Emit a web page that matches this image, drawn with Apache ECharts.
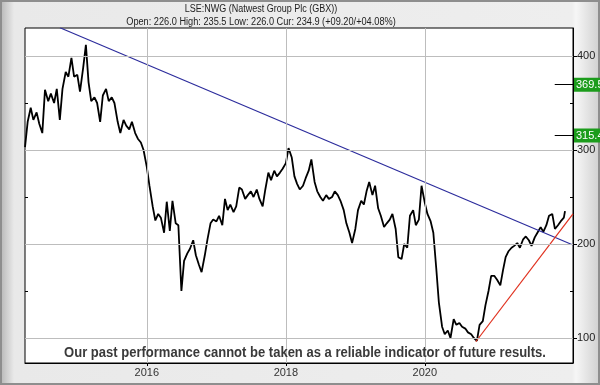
<!DOCTYPE html>
<html><head><meta charset="utf-8">
<script src="https://cdn.jsdelivr.net/npm/echarts@6/dist/echarts.min.js"></script>
<style>
html,body{margin:0;padding:0;}
body{width:600px;height:385px;background:#8e8e8e;position:relative;overflow:hidden}
#bg{position:absolute;left:2px;top:2px;width:596px;height:381px;
 background:linear-gradient(to right,#bdbdbd 0px,#e9e9e9 12px,#eeeeee 570px,#f6f6f6 574px,#d2d2d2 596px);}
#c{position:absolute;left:0;top:0;width:600px;height:385px}
</style>
</head><body><div id="bg"></div><div id="c"></div>
<script>
// ---- data (semi-monthly readings: 1st and 15th of each month) ----
const p2014 = [303,330,345,332,340,328,318,364,352,360,350,365,332,365,383,378,398,378]; // from Apr
const p2015 = [380,362,388,412,372,352,356,350,330,358,365,352,356,350,330,318,332,326,322,330,318,312,308,300];
const p2016 = [282,262,240,225,232,228,212,245,214,246,222,220,150,182,190,195,204,188,178,170,188,205,222,226];
const p2017 = [224,230,220,248,236,242,234,240,260,258,248,252,256,250,258,248,240,258,276,268,278,272,276,280];
const p2018 = [286,302,292,272,264,258,262,270,278,290,266,256,250,246,252,248,250,256,252,246,236,222,212,201];
const p2019 = [216,236,246,242,256,266,252,262,238,230,218,222,226,232,216,186,184,200,196,230,236,220,226,262];
const p2020 = [244,232,224,212,175,138,112,104,108,100,120,114,116,112,110,106,104,100,97,114,118,135,150,166];
const p2021 = [166,162,156,172,186,192,196,198,201,196,205,208,204,198,207,212,218,213,220,230,232,216,220,224];
const p2022 = [228];
const lastDate = '2022-01-07';
const lastClose = 234.9;

const yearTicks = ['2016-01-01','2018-01-01','2020-01-01'];
const priceTicks = [100,200,300,400];
const minorPriceTicks = [150,250,350];
const targetLevels = [369.5,315.4];

const blueTrend = [['2014-10-02',430],['2022-02-18',199]];
const redTrend = [['2020-09-25',96],['2022-02-18',232]];

const titleLine1 = 'LSE:NWG (Natwest Group Plc (GBX))';
const titleLine2 = 'Open: 226.0 High: 235.5 Low: 226.0 Cur: 234.9 (+09.20/+04.08%)';
const disclaimer = 'Our past performance cannot be taken as a reliable indicator of future results.';

// ---- build ----
const ts = s => echarts.time.parse(s).getTime();
function semiMonthly(year, firstMonth, vals){
  return vals.map((v,i)=>{
    const m = firstMonth + Math.floor(i/2);
    const d = i%2 ? 15 : 1;
    return [ts(year+'-'+String(m).padStart(2,'0')+'-'+String(d).padStart(2,'0')), v];
  });
}
const price = [].concat(
  semiMonthly(2014,4,p2014), semiMonthly(2015,1,p2015), semiMonthly(2016,1,p2016),
  semiMonthly(2017,1,p2017), semiMonthly(2018,1,p2018), semiMonthly(2019,1,p2019),
  semiMonthly(2020,1,p2020), semiMonthly(2021,1,p2021), semiMonthly(2022,1,p2022),
  [[ts(lastDate),lastClose]]
);
const toTs = arr => arr.map(p=>[ts(p[0]),p[1]]);
const FONT = '"Liberation Sans", Arial, sans-serif';
const xMin = ts('2014-04-01'), xMax = ts('2022-02-18');
const yearTs = yearTicks.map(ts);

const chart = echarts.init(document.getElementById('c'));
chart.setOption({
  animation:false,
  backgroundColor:'transparent',
  grid:{left:25,right:27,top:28,bottom:22,show:true,backgroundColor:'#fff',borderColor:'#000',borderWidth:1},
  xAxis:{type:'value',min:xMin,max:xMax,
    axisLine:{show:true,lineStyle:{color:'#000',width:1}},
    axisTick:{show:true,length:3,customValues:yearTs,lineStyle:{color:'#000'}},
    axisLabel:{customValues:yearTs,margin:4,color:'#333',fontSize:11,fontFamily:FONT,
      formatter:v=>String(new Date(v).getFullYear())},
    splitLine:{show:false}},
  yAxis:[{type:'value',position:'right',min:73.4,max:429.8,
    axisLine:{show:true,lineStyle:{color:'#000',width:1}},
    axisTick:{show:true,length:4,customValues:priceTicks,lineStyle:{color:'#000'}},
    axisLabel:{customValues:priceTicks,margin:4,color:'#222',fontSize:11,fontFamily:FONT},
    splitLine:{show:false}},
   {type:'value',position:'right',min:73.4,max:429.8,
    axisLine:{show:false},
    axisTick:{show:true,inside:true,length:3,customValues:minorPriceTicks,lineStyle:{color:'#000'}},
    axisLabel:{show:false},splitLine:{show:false}},
   {type:'value',position:'left',min:73.4,max:429.8,
    axisLine:{show:false},
    axisTick:{show:true,inside:true,length:3,customValues:minorPriceTicks,lineStyle:{color:'#000'}},
    axisLabel:{show:false},splitLine:{show:false}}],
  graphic:[
    {type:'text',x:261,y:9,z:100,scaleX:0.9,style:{text:titleLine1,align:'center',verticalAlign:'middle',fill:'#222',font:'10px '+FONT}},
    {type:'text',x:261,y:22,z:100,scaleX:0.92,style:{text:titleLine2,align:'center',verticalAlign:'middle',fill:'#222',font:'10px '+FONT}},
    {type:'text',x:305,y:353,z:100,scaleX:0.93,style:{text:disclaimer,align:'center',verticalAlign:'middle',fill:'#3a3a3a',font:'bold 14px '+FONT}}
  ],
  series:[
    {type:'line',data:[],z:1,silent:true,
     markLine:{silent:true,symbol:['none','none'],label:{show:false},
       lineStyle:{color:'#bdbdbd',width:1,type:'solid'},
       data:priceTicks.map(v=>({yAxis:v})).concat(yearTs.map(d=>({xAxis:d})))}},
    {type:'line',data:price,z:3,showSymbol:false,symbol:'none',
     lineStyle:{color:'#000',width:1.8}},
    {type:'line',data:toTs(blueTrend),z:4,showSymbol:false,symbol:'none',lineStyle:{color:'#2c2c9c',width:1.2}},
    {type:'line',data:toTs(redTrend),z:4,showSymbol:false,symbol:'none',lineStyle:{color:'#e0301e',width:1.2}},
    {type:'line',data:[],z:5,clip:false,
     markLine:{silent:true,symbol:['none','none'],
       data:targetLevels.map(v=>{
         const lab={show:true,position:'end',distance:1,formatter:v.toFixed(1),color:'#fff',backgroundColor:'#1c9c1c',
           padding:[2,3,1,2],fontSize:11,fontFamily:FONT};
         return [{coord:[ts('2021-11-14'),v],lineStyle:{color:'#000',width:1,type:'solid'},label:lab},
                 {coord:[xMax,v],label:lab}];
       }).concat([[
         {coord:[ts(lastDate),lastClose],lineStyle:{opacity:0},label:{show:true,position:'end',distance:1,formatter:lastClose.toFixed(1),
           color:'#fff',backgroundColor:'#000',padding:[2,3,1,2],fontSize:11,fontFamily:FONT}},
         {coord:[xMax,lastClose]}
       ]])}}
  ]
});
</script>
</body></html>
